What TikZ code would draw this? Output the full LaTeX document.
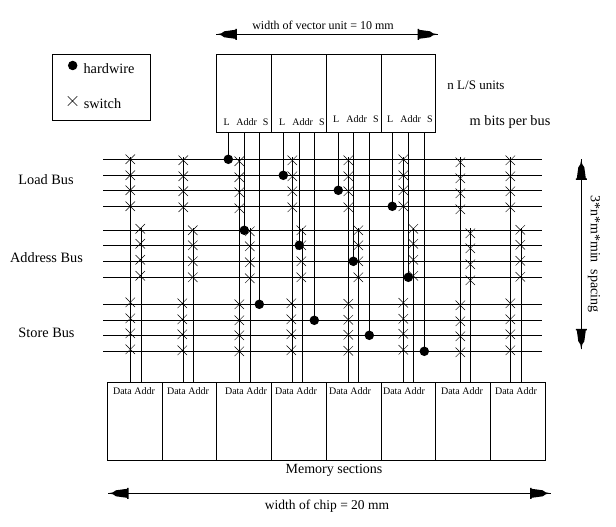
\documentclass[tikz,border=0pt]{standalone}
\usepackage{fontspec}
\setmainfont{Liberation Serif}
\usetikzlibrary{shapes.misc}
\tikzset{
  wire/.style={line width=1pt,line cap=butt},
  cell/.style={draw,line width=1pt,rectangle,inner sep=0pt,outer sep=0pt},
  hardwire/.style={circle,fill=black,inner sep=0pt,outer sep=0pt,minimum size=9.5pt},
  switchmark/.style={cross out,draw,line width=0.5pt,inner sep=0pt,outer sep=0pt,minimum width=9.5pt,minimum height=9.5pt},
  label/.style={inner sep=0pt,outer sep=0pt,anchor=center},
  dimline/.style={line width=1pt},
  dimhead/.pic={\fill (0,0) -- (5,1) -- (8,3) -- (19,4.5) -- (19,5.5) -- (20.5,5.5) -- (20.5,-5.5) -- (19,-5.5) -- (19,-4.5) -- (8,-3) -- (5,-1) -- cycle;},
  tiny lab/.style={label,font=\fontsize{10}{10}\selectfont},
  mid lab/.style={label,font=\fontsize{13}{13}\selectfont},
  big lab/.style={label,font=\fontsize{14.3}{14.3}\selectfont}
}
\begin{document}
\begin{tikzpicture}[x=1pt,y=-1pt]
\useasboundingbox (0,0) rectangle (616,527);

% Legend
\node[cell,minimum width=98.4pt,minimum height=66pt] (legend) at (101.5,87.3) {};
\node[hardwire] (legdot) at (72.7,65.5) {};
\node[switchmark] (legsw) at (72.5,101) {};
\node[big lab] (leghw) at (109,68.5) {hardwire};
\node[big lab] (legsn) at (102.5,103.5) {switch};

% Vector units
\foreach \i/\xa/\xb in {1/216.3/271.3,2/271.3/326.3,3/326.3/381.3,4/381.3/435.3}
  \node[cell,minimum width={(\xb-\xa)*1pt},minimum height=78pt] (u\i) at ({(\xa+\xb)/2},93.3) {};
\foreach \i/\xl/\xm/\xs/\y in {1/226.7/246.7/265.7/122,2/282.3/302.7/322/122,3/336.3/356.7/376/119,4/390.3/410.7/430/119}{
  \node[tiny lab] (ul\i) at (\xl,\y) {L};
  \node[tiny lab] (ua\i) at (\xm,\y) {Addr};
  \node[tiny lab] (us\i) at (\xs,\y) {S};
}

% Memory sections
\foreach \i/\xa/\xb/\xt in {1/107.3/162.3/134,2/162.3/216.3/188,3/216.3/271.3/246,4/271.3/326.7/296,5/326.7/381.3/350,6/381.3/435.3/404,7/435.3/490.3/462,8/490.3/545.3/516}{
  \node[cell,minimum width={(\xb-\xa)*1pt},minimum height=78pt] (m\i) at ({(\xa+\xb)/2},421.3) {};
  \node[tiny lab] (mt\i) at (\xt,391) {Data Addr};
}

% Bus lines
\foreach \n/\y in {l1/159.3,l2/175.3,l3/190.3,l4/206.3,a1/230.3,a2/245.3,a3/261.3,a4/277.3,s1/304.3,s2/320.3,s3/335.3,s4/351.3}{
  \coordinate (w\n) at (103,\y);
  \coordinate (e\n) at (542,\y);
  \draw[wire] (w\n) -- (e\n);
}

% Hardwired tap points
\foreach \i/\xl/\yl/\xa/\ya/\xs/\ys in {1/228.3/159.3/244.3/230.3/259.3/304.3,2/283.3/175.3/299.3/245.3/314.3/320.3,3/338.3/190.3/353.3/261.3/369.3/335.3,4/392.3/206.3/408.3/277.3/424.3/351.3}{
  \node[hardwire] (dl\i) at (\xl,\yl) {};
  \node[hardwire] (da\i) at (\xa,\ya) {};
  \node[hardwire] (ds\i) at (\xs,\ys) {};
  \draw[wire] (u\i.south -| dl\i) -- (dl\i);
  \draw[wire] (u\i.south -| da\i) -- (da\i);
  \draw[wire] (u\i.south -| ds\i) -- (ds\i);
}

% Memory data and address risers
\foreach \i/\xd/\xa in {1/130.3/141.3,2/183.3/193.3,3/239.3/250.3,4/292.3/302.3,5/348.3/358.3,6/403.3/413.3,7/460.3/470.3,8/510.3/521.3}{
  \coordinate (dt\i) at (\xd,157);
  \coordinate (at\i) at (\xa,228);
  \draw[wire] (dt\i) -- (m\i.north -| dt\i);
  \draw[wire] (at\i) -- (m\i.north -| at\i);
}

% Switches: column, x position and per-column vertical offset
\foreach \i/\x/\o in {1/130.3/0,2/183.3/1,3/239.3/2,4/292.3/1,5/348.3/1,6/403.3/0,7/460.3/3,8/510.3/1}
  \foreach \n/\y in {1/159.3,2/175.3,3/190.3,4/206.3}
    \node[switchmark] (swl\i-\n) at (\x,\y+\o) {};
\foreach \i/\x/\o in {1/140.3/-1.5,2/192.8/0,3/249.8/1,4/301.3/0,5/358.3/0,6/413.3/-1.5,7/470.3/3,8/520.3/-0.5}
  \foreach \n/\y in {1/230.3,2/245.3,3/261.3,4/277.3}
    \node[switchmark] (swa\i-\n) at (\x,\y+\o) {};
\foreach \i/\x/\o in {1/130.3/-2,2/182.3/-1,3/239.3/0,4/291.3/-1,5/348.3/-0.5,6/403.3/-1.5,7/460.3/1,8/510.3/-1}
  \foreach \n/\y in {1/304.3,2/320.3,3/335.3,4/351.3}
    \node[switchmark] (sws\i-\n) at (\x,\y+\o) {};

% Dimension arrows with hand-shaped heads
\coordinate (vw) at (216.3,34.3);
\coordinate (ve) at (438,34.3);
\draw[dimline] (vw) -- (ve);
\pic at (vw) {dimhead};
\pic[rotate=180] at (ve) {dimhead};
\coordinate (cw) at (108,493.3);
\coordinate (ce) at (550.7,493.3);
\draw[dimline] (cw) -- (ce);
\pic at (cw) {dimhead};
\pic[rotate=180] at (ce) {dimhead};
\coordinate (st) at (581.3,159.3);
\coordinate (sb) at (581.3,349.3);
\draw[dimline] (st) -- (sb);
\pic[rotate=-90] at (st) {dimhead};
\pic[rotate=90] at (sb) {dimhead};

% Captions
\node[label,font=\fontsize{12}{12}\selectfont] (tv) at (323,25) {width of vector unit = 10 mm};
\node[label,font=\fontsize{13.5}{13.5}\selectfont] (tc) at (327,505.7) {width of chip = 20 mm};
\node[label,font=\fontsize{14}{14}\selectfont] (tm) at (334,470.7) {Memory sections};
\node[label,font=\fontsize{14}{14}\selectfont,rotate=-90] (ts) at (594,254) {3*n*m*min\ \ spacing};
\node[mid lab] (tn) at (476,85) {n L/S units};
\node[big lab] (tb) at (510,122.5) {m bits per bus};
\node[big lab] (tl) at (46,180) {Load Bus};
\node[big lab] (ta) at (46.5,258) {Address Bus};
\node[big lab] (tt) at (46.5,333) {Store Bus};
\end{tikzpicture}
\end{document}
